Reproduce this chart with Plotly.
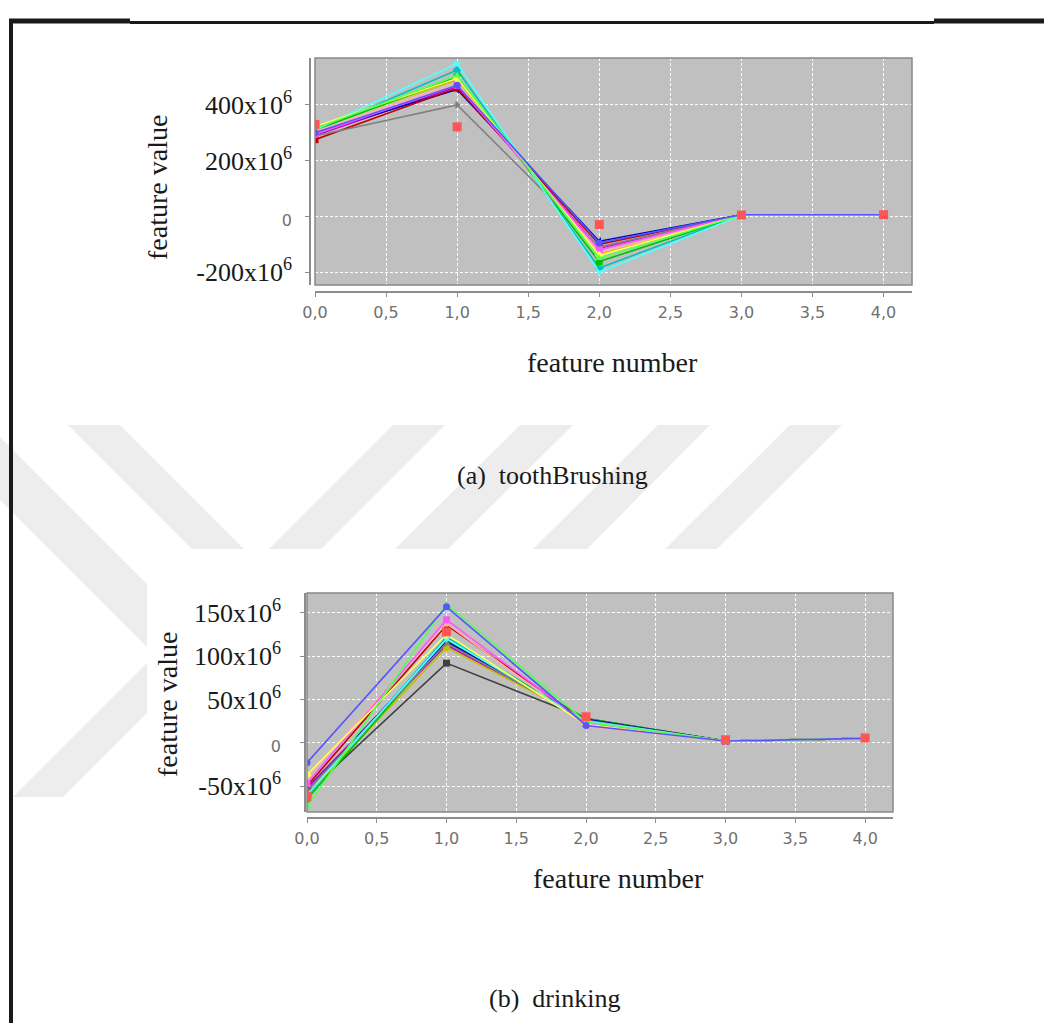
import plotly.graph_objects as go

W, H = 1044, 1023

# ---------------- data ----------------
features = [0, 1, 2, 3, 4]
x_tick_vals = [0.0, 0.5, 1.0, 1.5, 2.0, 2.5, 3.0, 3.5, 4.0]
x_tick_text = ["0,0", "0,5", "1,0", "1,5", "2,0", "2,5", "3,0", "3,5", "4,0"]

# (a) toothBrushing, values in millions
tb_s00 = [330, 321, -29, 5, 6]      # red squares (markers only)
tb_s01 = [300, 470, -95, 6, 6]
tb_s02 = [315, 505, -150, 5, 6]
tb_s03 = [322, 495, -140, 5, 6]
tb_s04 = [295, 470, -120, 6, 6]
tb_s05 = [310, 548, -200, 4, 6]
tb_s06 = [305, 480, -130, 5, 6]
tb_s07 = [288, 400, -110, 6, 6]
tb_s08 = [275, 460, -100, 6, 6]
tb_s09 = [300, 455, -89, 6, 6]
tb_s10 = [310, 500, -162, 5, 6]
tb_s11 = [316, 490, -136, 5, 6]
tb_s12 = [290, 465, -115, 6, 6]
tb_s13 = [305, 525, -185, 5, 6]
tb_y_vals = [-200, 0, 200, 400]
tb_y_text = ["-200x10<sup>6</sup>", "0", "200x10<sup>6</sup>", "400x10<sup>6</sup>"]

# (b) drinking, values in millions
dr_s00 = [-62, 128, 30, 3.5, 5.5]   # red squares (markers only)
dr_s01 = [-23, 157, 20, 2, 5]
dr_s02 = [-74, 160, 24, 2, 5]
dr_s03 = [-37, 125, 21, 2, 5]
dr_s04 = [-47, 142, 22, 2, 5]
dr_s05 = [-60, 120, 25, 2, 5]
dr_s06 = [-40, 138, 19, 2, 5]
dr_s07 = [-55, 115, 26, 2, 5]
dr_s08 = [-50, 136, 25, 2, 5]
dr_s09 = [-55, 117, 27, 2, 5]
dr_s10 = [-65, 118, 28, 2, 5]
dr_s11 = [-60, 110, 27, 2, 5]
dr_s12 = [-52, 113, 26, 2, 5]
dr_s13 = [-62, 122, 26, 2, 5]
dr_s14 = [-58, 92, 28, 2, 5]
dr_y_vals = [-50, 0, 50, 100, 150]
dr_y_text = ["-50x10<sup>6</sup>", "0", "50x10<sup>6</sup>", "100x10<sup>6</sup>", "150x10<sup>6</sup>"]

tb_series = [tb_s00, tb_s01, tb_s02, tb_s03, tb_s04, tb_s05, tb_s06,
             tb_s07, tb_s08, tb_s09, tb_s10, tb_s11, tb_s12, tb_s13]
dr_series = [dr_s00, dr_s01, dr_s02, dr_s03, dr_s04, dr_s05, dr_s06,
             dr_s07, dr_s08, dr_s09, dr_s10, dr_s11, dr_s12, dr_s13, dr_s14]

# ---------------- styles (JFreeChart default sequences) ----------------
colors = ["#FF5555", "#5555FF", "#55FF55", "#FFFF55", "#FF55FF", "#55FFFF",
          "#FFAFAF", "#808080", "#C00000", "#0000C0", "#00C000", "#C0C000",
          "#C000C0", "#00C0C0", "#404040"]
symbols = ["square", "circle", "triangle-up", "diamond", "square", "triangle-down",
           "circle", "triangle-right", "square", "triangle-left", "square", "circle",
           "triangle-up", "diamond", "square"]
SCALE = 1e6


def px(x):
    return x / W


def py(y):
    return 1 - y / H


fig = go.Figure()


def add_series(series, xa, ya):
    # JFreeChart renders series in reverse order: series 0 on top
    for i in reversed(range(len(series))):
        vals = [v * SCALE for v in series[i]]
        fig.add_trace(go.Scatter(
            x=features, y=vals, xaxis=xa, yaxis=ya,
            mode="markers" if i == 0 else "lines+markers",
            line=dict(color=colors[i], width=1.6),
            marker=dict(color=colors[i], symbol=symbols[i], size=9 if i == 0 else 7),
            showlegend=False, hoverinfo="skip"))


add_series(tb_series, "x", "y")
add_series(dr_series, "x2", "y2")


def ytext(labels):
    out = []
    for t in labels:
        if "x10" in t:
            out.append(t)
        else:
            out.append('<span style="font-family:DejaVu Sans;font-size:16px;fill:#707070">'
                       + t + '</span>')
    return out


tick_font = dict(family="DejaVu Sans", size=16, color="#707070")
serif_tick_font = dict(family="Liberation Serif", size=26, color="#1a1a1a")
common = dict(showgrid=True, gridcolor="white", gridwidth=1, griddash="3px,2px",
              zeroline=False, showline=True, linecolor="#8c8c8c", linewidth=1.5,
              ticks="outside", ticklen=4, tickcolor="#8c8c8c", tickwidth=1,
              fixedrange=True, automargin=False)

fig.update_layout(
    template="none",
    width=W, height=H, margin=dict(l=0, r=0, t=0, b=0, pad=0, autoexpand=False),
    paper_bgcolor="white", plot_bgcolor="#c0c0c0", showlegend=False,
    xaxis=dict(domain=[px(315), px(912)], range=[0, 4.2], anchor="free", position=py(292),
               tickvals=x_tick_vals, ticktext=x_tick_text, ticklabelstandoff=2,
               tickfont=tick_font, **common),
    yaxis=dict(domain=[py(285), py(58)], range=[-246 * SCALE, 568 * SCALE], anchor="free",
               position=px(310), tickvals=[v * SCALE for v in tb_y_vals],
               ticktext=ytext(tb_y_text), ticklabelstandoff=8,
               tickfont=serif_tick_font, **common),
    xaxis2=dict(domain=[px(307), px(893)], range=[0, 4.2], anchor="free", position=py(818),
                tickvals=x_tick_vals, ticktext=x_tick_text, ticklabelstandoff=2,
                tickfont=tick_font, **common),
    yaxis2=dict(domain=[py(812), py(593)], range=[-80 * SCALE, 173 * SCALE], anchor="free",
                position=px(305), tickvals=[v * SCALE for v in dr_y_vals],
                ticktext=ytext(dr_y_text), ticklabelstandoff=14,
                tickfont=serif_tick_font, **common),
)

shapes = []
# plot outlines
for xr, yr in (("x domain", "y domain"), ("x2 domain", "y2 domain")):
    shapes.append(dict(type="rect", xref=xr, yref=yr, x0=0, x1=1, y0=0, y1=1,
                       line=dict(color="#888888", width=1.5), layer="above"))

# watermark (light grey stripes visible between chart images)
wm = [
    [(68, 425), (120, 425), (244, 549), (192, 549)],
    [(393, 425), (445, 425), (321, 549), (269, 549)],
    [(520, 425), (573, 425), (448, 549), (395, 549)],
    [(658, 425), (710, 425), (587, 549), (533, 549)],
    [(790, 425), (842, 425), (717, 549), (665, 549)],
    [(0, 437), (147, 584), (147, 647), (0, 500)],
    [(147, 663), (13, 797), (63, 797), (147, 713)],
]
for poly in wm:
    path = "M " + " L ".join(f"{px(a):.5f},{py(b):.5f}" for a, b in poly) + " Z"
    shapes.append(dict(type="path", xref="paper", yref="paper", path=path,
                       fillcolor="#ededed", line=dict(width=0), layer="below"))

# page frame
shapes.append(dict(type="line", xref="paper", yref="paper", x0=px(11), x1=px(11),
                   y0=py(19), y1=py(1023), line=dict(color="#1a1a1a", width=4)))
shapes.append(dict(type="line", xref="paper", yref="paper", x0=px(9), x1=px(130),
                   y0=py(21), y1=py(21), line=dict(color="#1a1a1a", width=5)))
shapes.append(dict(type="line", xref="paper", yref="paper", x0=px(934), x1=px(1044),
                   y0=py(21), y1=py(21), line=dict(color="#1a1a1a", width=5)))
shapes.append(dict(type="line", xref="paper", yref="paper", x0=px(130), x1=px(934),
                   y0=py(22.5), y1=py(22.5), line=dict(color="#1a1a1a", width=3)))
fig.update_layout(shapes=shapes)

serif = "Liberation Serif"
ann = [
    ("feature value", 157, 188, 28, -90),
    ("feature number", 612, 362, 28, 0),
    ("(a)\u00a0 toothBrushing", 552, 475, 26, 0),
    ("feature value", 167, 705, 28, -90),
    ("feature number", 618, 878, 28, 0),
    ("(b)\u00a0 drinking", 554, 998, 26, 0),
]
for text, x, y, size, ang in ann:
    fig.add_annotation(text=text, xref="paper", yref="paper", x=px(x), y=py(y),
                       xanchor="center", yanchor="middle", showarrow=False,
                       textangle=ang, font=dict(family=serif, size=size, color="#1a1a1a"))

fig.write_html("out.html")
